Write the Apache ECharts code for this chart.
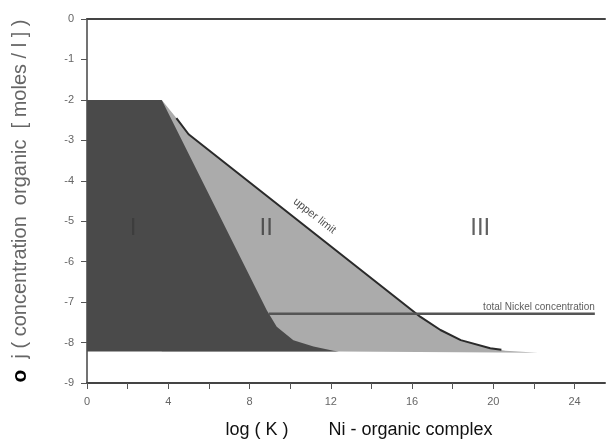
<!DOCTYPE html>
<html>
<head>
<meta charset="utf-8">
<script src="https://cdn.jsdelivr.net/npm/echarts@6/dist/echarts.min.js"></script>
<style>html,body{margin:0;padding:0;background:#fff;}#c{width:606px;height:446px;}</style>
</head>
<body>
<div id="c"></div>
<script>
// ---- data ----
var xTickValues = [0, 2, 4, 6, 8, 10, 12, 14, 16, 18, 20, 22, 24];
var xLabelValues = [0, 4, 8, 12, 16, 20, 24];
var yTickValues = [0, -1, -2, -3, -4, -5, -6, -7, -8, -9];
// region I (dark) boundary points [logK, log conc]
var regionI = [[0, -2], [3.68, -2], [8.85, -7.2], [9.34, -7.61], [10.16, -7.94], [11.15, -8.1], [12.13, -8.2], [12.4, -8.22], [0, -8.22]];
// region II (light) boundary points
var regionII = [[3.68, -2], [4.4, -2.45], [5.0, -2.85], [16.2, -7.28], [16.4, -7.36], [17.4, -7.69], [18.4, -7.94], [19.85, -8.14], [20.6, -8.2], [22.2, -8.25], [12.4, -8.22], [3.68, -8.22]];
// upper limit curve
var upperLimit = [[4.4, -2.45], [5.0, -2.85], [16.2, -7.28], [16.4, -7.36], [17.4, -7.69], [18.4, -7.94], [19.85, -8.14], [20.4, -8.18]];
// total nickel concentration
var nickelX = [8.95, 25.0];
var nickelY = -7.29;
// annotations [text, x, y]
var annotations = [
  ['I', 2.27, -5.17],
  ['II', 8.82, -5.17],
  ['III', 19.36, -5.17],
  ['upper limit', 11.2, -4.87],
  ['total Nickel concentration', 25.0, -7.12]
];

var FONT = "'Liberation Sans', Arial, Helvetica, sans-serif";
var chart = echarts.init(document.getElementById('c'), null, {renderer: 'canvas'});

function polygonSeries(points, color, z) {
  return {
    type: 'custom',
    z: z,
    silent: true,
    data: points,
    encode: {x: 0, y: 1},
    renderItem: function (params, api) {
      if (params.dataIndex !== 0) return null;
      var pts = points.map(function (p) { return api.coord(p); });
      return {type: 'polygon', shape: {points: pts}, style: {fill: color, stroke: null}};
    }
  };
}

var labelStyles = [
  {fontSize: 24, color: '#3a3a3a'},
  {fontSize: 24, color: '#3a3a3a'},
  {fontSize: 24, color: '#3a3a3a'},
  {fontSize: 11, color: '#222', rotate: -38},
  {fontSize: 10, color: '#333', align: 'right'}
];

var option = {
  animation: false,
  backgroundColor: '#fff',
  grid: {left: 87, right: 1, top: 19, bottom: 63},
  xAxis: [{
    type: 'value', min: 0, max: 25.5,
    name: 'log ( K )        Ni - organic complex',
    nameLocation: 'middle', nameGap: 38,
    nameTextStyle: {fontFamily: FONT, fontSize: 18, color: '#111', padding: [0, 0, 0, 26]},
    axisLine: {show: true, onZero: false, lineStyle: {color: '#444', width: 2}},
    axisTick: {show: true, length: 6, customValues: xTickValues, lineStyle: {color: '#555', width: 1}},
    axisLabel: {customValues: xLabelValues, margin: 13, fontFamily: FONT, fontSize: 11, color: '#666'},
    splitLine: {show: false}
  }, {
    type: 'value', min: 0, max: 25.5, position: 'top',
    axisLine: {show: true, onZero: false, lineStyle: {color: '#444', width: 2}},
    axisTick: {show: false}, axisLabel: {show: false}, splitLine: {show: false}
  }],
  yAxis: {
    type: 'value', min: -9, max: 0, interval: 1,
    name: '{b|o}  j ( concentration  organic  [ moles / l ] )',
    nameLocation: 'middle', nameGap: 56,
    nameTextStyle: {fontFamily: FONT, fontSize: 20, color: '#666',
      rich: {b: {fontFamily: FONT, fontSize: 21, fontWeight: 'bold', color: '#000'}}},
    axisLine: {show: true, onZero: false, lineStyle: {color: '#444', width: 1.5}},
    axisTick: {show: true, length: 6, customValues: yTickValues, lineStyle: {color: '#555', width: 1}},
    axisLabel: {margin: 13, fontFamily: FONT, fontSize: 11, color: '#666'},
    splitLine: {show: false}
  },
  series: [
    polygonSeries(regionII, '#ababab', 1),
    polygonSeries(regionI, '#4a4a4a', 2),
    {
      type: 'line', z: 3, silent: true, symbol: 'none',
      data: upperLimit,
      lineStyle: {color: '#2a2a2a', width: 2}
    },
    {
      type: 'line', z: 4, silent: true, symbol: 'none',
      data: nickelX.map(function (x) { return [x, nickelY]; }),
      lineStyle: {color: '#555', width: 2.5}
    },
    {
      type: 'scatter', z: 5, silent: true, symbolSize: 0,
      data: annotations.map(function (a, i) {
        var s = labelStyles[i];
        return {
          value: [a[1], a[2]], name: a[0],
          label: {
            show: true, position: 'inside', formatter: '{b}',
            fontFamily: FONT, fontSize: s.fontSize, color: s.color,
            rotate: s.rotate || 0, align: s.align || 'center', verticalAlign: 'middle'
          }
        };
      })
    }
  ]
};
chart.setOption(option);
</script>
</body>
</html>
